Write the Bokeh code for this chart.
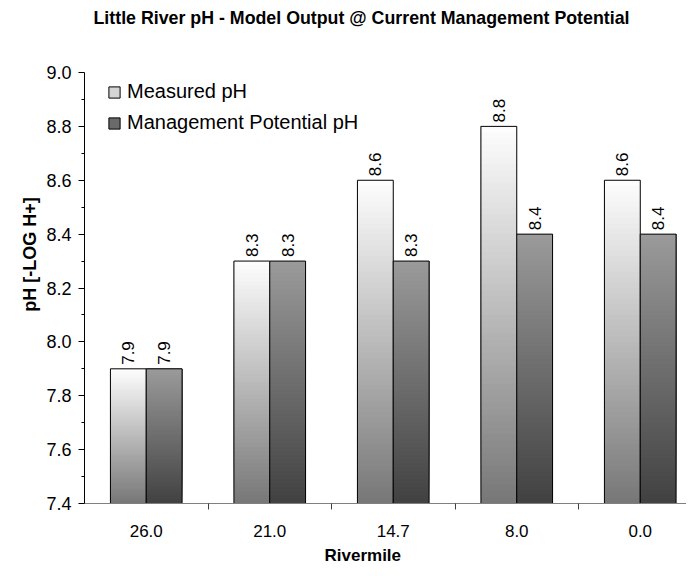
import math
from bokeh.plotting import figure
from bokeh.models import (ColumnDataSource, Range1d, FixedTicker, Legend, LegendItem,
                          Label, Title, NumeralTickFormatter)
from bokeh.embed import file_html
from bokeh.resources import INLINE
from bokeh.core.properties import value

# ---- data ----
categories = ["26.0", "21.0", "14.7", "8.0", "0.0"]
measured = [7.9, 8.3, 8.6, 8.8, 8.6]
management = [7.9, 8.3, 8.3, 8.4, 8.4]
y_ticks = [7.4, 7.6, 7.8, 8.0, 8.2, 8.4, 8.6, 8.8, 9.0]
series_names = ["Measured pH", "Management Potential pH"]
title_text = "Little River pH -  Model Output @ Current Management Potential"
x_title = "Rivermile"
y_title = "pH  [-LOG H+]"

FONT = "Liberation Sans"
Y0 = y_ticks[0]
BAR_W = 0.29
N_STEPS = 60

W, H = 686, 568
LEFT, BOTTOM = 84, 65
FRAME_H = H - BOTTOM               # frame runs to top of canvas; axis is bounded
AXIS_PX = 431                      # pixel span of 7.4 .. 9.0
px_per_unit = AXIS_PX / (y_ticks[-1] - y_ticks[0])
y_end = y_ticks[0] + FRAME_H / px_per_unit
CAT_PX = 123.5
x_end = -0.5 + (W - LEFT) / CAT_PX

p = figure(width=W, height=H,
           min_border_left=LEFT, min_border_top=0, min_border_bottom=BOTTOM, min_border_right=0,
           x_range=Range1d(-0.5, x_end), y_range=Range1d(y_ticks[0], y_end),
           output_backend="svg", toolbar_location=None, title=None)
p.outline_line_color = None
p.background_fill_color = "white"
p.border_fill_color = "white"
p.xgrid.visible = False
p.ygrid.visible = False


def grey(v):
    v = max(0, min(255, int(round(v))))
    return "#%02x%02x%02x" % (v, v, v)


# gradient bars: (bottom grey, top grey)
grads = [(120, 255), (66, 155)]
offsets = [-BAR_W, 0.0]
for s, vals in enumerate([measured, management]):
    lefts, rights, bottoms, tops, colors = [], [], [], [], []
    for i, v in enumerate(vals):
        for k in range(N_STEPS):
            t = k / N_STEPS
            lefts.append(i + offsets[s])
            rights.append(i + offsets[s] + BAR_W)
            bottoms.append(Y0 + (v - Y0) * t)
            tops.append(v)
            colors.append(grey(grads[s][0] + (grads[s][1] - grads[s][0]) * t))
    src = ColumnDataSource(dict(left=lefts, right=rights, bottom=bottoms, top=tops, color=colors))
    p.quad(left="left", right="right", bottom="bottom", top="top", fill_color="color",
           line_color=None, source=src)
    xs = [i + offsets[s] for i in range(len(vals))]
    p.quad(left=xs, right=[x + BAR_W for x in xs], bottom=[Y0] * len(vals), top=vals,
           fill_color=None, line_color="black", line_width=1)
    p.text(x=[x + BAR_W / 2 for x in xs], y=vals, text=["%.1f" % v for v in vals],
           angle=math.pi / 2, text_align="left", text_baseline="middle", y_offset=-4,
           text_font=value(FONT), text_font_size="17px", text_color="black")

# legend (proxy renderers that draw nothing in the plot)
nan = float("nan")
leg_m = p.quad(left=[nan], right=[nan], bottom=[nan], top=[nan],
               fill_color="#d4d4d4", line_color="black")
leg_p = p.quad(left=[nan], right=[nan], bottom=[nan], top=[nan],
               fill_color="#6a6a6a", line_color="black")
legend = Legend(items=[LegendItem(label=series_names[0], renderers=[leg_m]),
                       LegendItem(label=series_names[1], renderers=[leg_p])],
                location=(23, FRAME_H - 82 - 52), orientation="vertical",
                background_fill_alpha=0, border_line_color=None,
                label_text_font=FONT, label_text_font_size="20px", label_text_color="black",
                glyph_width=14, glyph_height=14, label_height=18, spacing=8,
                padding=0, margin=0, label_standoff=6)
p.add_layout(legend, "center")

# y axis
yax = p.yaxis[0]
yax.bounds = (y_ticks[0], y_ticks[-1])
yax.ticker = FixedTicker(ticks=y_ticks,
                         minor_ticks=[(a + b) / 2 for a, b in zip(y_ticks[:-1], y_ticks[1:])])
yax.formatter = NumeralTickFormatter(format="0.0")
yax.major_tick_out = 6
yax.major_tick_in = 0
yax.minor_tick_out = 3
yax.minor_tick_in = 0
yax.axis_line_color = "black"
yax.major_tick_line_color = "black"
yax.minor_tick_line_color = "black"
yax.major_label_text_font = FONT
yax.major_label_text_font_size = "18px"
yax.major_label_text_color = "black"
yax.major_label_standoff = 7
yax.axis_label = y_title
yax.axis_label_text_font = FONT
yax.axis_label_text_font_size = "18px"
yax.axis_label_text_font_style = "bold"
yax.axis_label_text_color = "black"
yax.axis_label_standoff = 3

# x axis
xax = p.xaxis[0]
xax.ticker = FixedTicker(ticks=list(range(len(categories))),
                         minor_ticks=[i + 0.5 for i in range(len(categories) - 1)])
xax.major_label_overrides = {i: c for i, c in enumerate(categories)}
xax.major_tick_out = 0
xax.major_tick_in = 0
xax.minor_tick_out = 6
xax.minor_tick_in = 0
xax.axis_line_color = "#808080"
xax.minor_tick_line_color = "#404040"
xax.major_label_text_font = FONT
xax.major_label_text_font_size = "17px"
xax.major_label_text_color = "black"
xax.major_label_standoff = 15

# x axis title
p.add_layout(Title(text=x_title, align="left", offset=240, standoff=8, text_font=FONT,
                   text_font_size="17px", text_font_style="bold", text_color="black"),
             "below")

# chart title (inside the frame, above the bounded axis)
p.add_layout(Label(x=9, y=FRAME_H - 17, x_units="screen", y_units="screen", text=title_text,
                   text_font=FONT, text_font_size="17.8px", text_font_style="bold",
                   text_color="black", text_align="left", text_baseline="middle"))

open("out.html", "w").write(file_html(p, INLINE))
